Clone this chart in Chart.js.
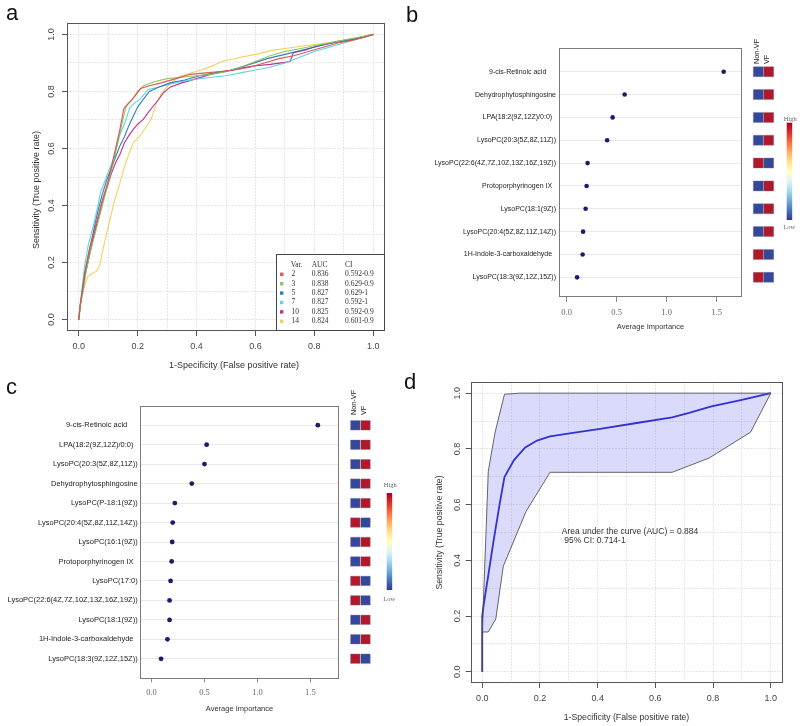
<!DOCTYPE html>
<html><head><meta charset="utf-8">
<script src="https://cdn.jsdelivr.net/npm/chart.js@4.4.1/dist/chart.umd.min.js"></script>
<style>
body{margin:0;background:#fff;}
#wrap{position:relative;width:800px;height:726px;overflow:hidden;background:#fff;}
canvas{position:absolute;}
.lab{position:absolute;font-family:"Liberation Sans",Arial,sans-serif;font-size:22px;line-height:22px;color:#111;}
</style></head><body>
<div id="wrap">
<canvas id="ca" width="400" height="380" style="left:0;top:0"></canvas>
<canvas id="cb" width="346" height="340" style="left:400px;top:0"></canvas>
<canvas id="cbh" width="55" height="340" style="left:745px;top:0"></canvas>
<canvas id="cc" width="343" height="386" style="left:0;top:340px"></canvas>
<canvas id="cch" width="78" height="386" style="left:342px;top:340px"></canvas>
<canvas id="cd" width="380" height="386" style="left:420px;top:340px"></canvas>
<div class="lab" style="left:6px;top:2px">a</div>
<div class="lab" style="left:406px;top:4px">b</div>
<div class="lab" style="left:6px;top:376px">c</div>
<div class="lab" style="left:404px;top:371px">d</div>
</div>
<script>
// ---------- Panel a data ----------
const aVars = ['2','3','5','7','10','14'];
const aAUC = ['0.836','0.838','0.827','0.827','0.825','0.824'];
const aCI = ['0.592-0.9','0.629-0.9','0.629-1','0.592-1','0.592-0.9','0.601-0.9'];
const aFpr2 = [0,0.005,0.012,0.02,0.035,0.05,0.065,0.08,0.095,0.11,0.125,0.14,0.153,0.165,0.18,0.195,0.21,0.24,0.28,0.33,0.378,0.43,0.48,0.53,0.58,0.63,0.68,0.73,0.78,0.83,0.88,0.93,0.97,1];
const aTpr2 = [0,0.05,0.1,0.16,0.24,0.3,0.36,0.42,0.47,0.53,0.6,0.67,0.74,0.755,0.77,0.79,0.81,0.82,0.83,0.845,0.86,0.865,0.87,0.875,0.885,0.9,0.915,0.925,0.94,0.955,0.97,0.98,0.99,1];
const aFpr3 = [0,0.005,0.015,0.025,0.04,0.055,0.07,0.085,0.1,0.115,0.13,0.145,0.16,0.175,0.19,0.2,0.22,0.26,0.3,0.35,0.4,0.45,0.5,0.55,0.6,0.65,0.7,0.75,0.8,0.85,0.9,0.95,1];
const aTpr3 = [0,0.05,0.1,0.17,0.24,0.3,0.36,0.42,0.48,0.54,0.61,0.68,0.745,0.765,0.785,0.8,0.82,0.835,0.845,0.85,0.855,0.86,0.87,0.885,0.905,0.925,0.94,0.95,0.96,0.97,0.98,0.99,1];
const aFpr5 = [0,0.005,0.012,0.02,0.035,0.05,0.065,0.08,0.095,0.11,0.125,0.14,0.156,0.17,0.185,0.2,0.219,0.24,0.27,0.31,0.36,0.41,0.46,0.52,0.58,0.64,0.7,0.76,0.82,0.88,0.94,1];
const aTpr5 = [0,0.05,0.1,0.16,0.24,0.31,0.38,0.44,0.49,0.53,0.57,0.61,0.643,0.68,0.713,0.745,0.772,0.8,0.815,0.83,0.84,0.855,0.865,0.875,0.895,0.915,0.93,0.945,0.96,0.975,0.985,1];
const aFpr7 = [0,0.004,0.01,0.02,0.032,0.05,0.065,0.075,0.09,0.105,0.12,0.13,0.14,0.16,0.173,0.19,0.207,0.236,0.27,0.31,0.35,0.4,0.45,0.5,0.55,0.6,0.65,0.7,0.75,0.8,0.85,0.9,0.95,1];
const aTpr7 = [0,0.05,0.1,0.19,0.26,0.33,0.4,0.45,0.49,0.53,0.57,0.61,0.65,0.7,0.743,0.76,0.772,0.807,0.815,0.825,0.835,0.843,0.85,0.855,0.865,0.875,0.885,0.9,0.92,0.94,0.955,0.97,0.985,1];
const aFpr10 = [0,0.005,0.012,0.02,0.035,0.05,0.065,0.08,0.095,0.11,0.125,0.14,0.155,0.17,0.185,0.2,0.219,0.235,0.253,0.27,0.287,0.31,0.35,0.4,0.45,0.5,0.54,0.593,0.65,0.7,0.718,0.729,0.77,0.808,0.86,0.92,0.97,1];
const aTpr10 = [0,0.05,0.1,0.15,0.22,0.29,0.35,0.41,0.46,0.51,0.55,0.58,0.62,0.645,0.667,0.685,0.702,0.725,0.749,0.77,0.795,0.815,0.83,0.845,0.86,0.87,0.88,0.889,0.895,0.902,0.905,0.936,0.945,0.959,0.97,0.98,0.99,1];
const aFpr14 = [0,0.004,0.01,0.02,0.03,0.043,0.06,0.071,0.083,0.094,0.108,0.122,0.14,0.156,0.17,0.185,0.207,0.23,0.247,0.264,0.28,0.298,0.32,0.344,0.38,0.43,0.49,0.55,0.6,0.66,0.718,0.78,0.84,0.9,0.95,1];
const aTpr14 = [0,0.04,0.08,0.12,0.15,0.16,0.17,0.19,0.25,0.3,0.36,0.42,0.48,0.54,0.58,0.62,0.643,0.678,0.705,0.76,0.79,0.815,0.835,0.854,0.865,0.88,0.906,0.92,0.93,0.945,0.953,0.962,0.97,0.98,0.988,1];
const rocGrid = [0,0.1,0.2,0.3,0.4,0.5,0.6,0.7,0.8,0.9,1.0];

// ---------- Panel b data ----------
const bNames = ['9-cis-Retinoic acid     ','Dehydrophytosphingosine','LPA(18:2(9Z,12Z)/0:0)  ','LysoPC(20:3(5Z,8Z,11Z))','LysoPC(22:6(4Z,7Z,10Z,13Z,16Z,19Z))','Protoporphyrinogen IX  ','LysoPC(18:1(9Z))','LysoPC(20:4(5Z,8Z,11Z,14Z))','1H-Indole-3-carboxaldehyde  ','LysoPC(18:3(9Z,12Z,15Z))'];
const bImportance = [1.57,0.58,0.46,0.405,0.21,0.20,0.19,0.165,0.16,0.105];
const bNonVF = [-1,-1,-1,-1,1,-1,-1,-1,1,1];
const bVF = [1,1,1,1,-1,1,1,1,-1,-1];

// ---------- Panel c data ----------
const cNames = ['9-cis-Retinoic acid     ','LPA(18:2(9Z,12Z)/0:0)  ','LysoPC(20:3(5Z,8Z,11Z))','Dehydrophytosphingosine','LysoPC(P-18:1(9Z))','LysoPC(20:4(5Z,8Z,11Z,14Z))','LysoPC(16:1(9Z))','Protoporphyrinogen IX  ','LysoPC(17:0)','LysoPC(22:6(4Z,7Z,10Z,13Z,16Z,19Z))','LysoPC(18:1(9Z))','1H-Indole-3-carboxaldehyde  ','LysoPC(18:3(9Z,12Z,15Z))'];
const cImportance = [1.57,0.52,0.50,0.38,0.22,0.20,0.195,0.19,0.18,0.17,0.17,0.15,0.09];
const cNonVF = [-1,-1,-1,-1,-1,1,-1,-1,1,1,-1,-1,1];
const cVF = [1,1,1,1,1,-1,1,1,-1,-1,1,1,-1];
const impTicks = [0,0.5,1.0,1.5];
const heatCols = ['Non-VF','VF'];

// ---------- Panel d data ----------
const dFpr = [0,0,0.005,0.015,0.038,0.061,0.077,0.11,0.149,0.19,0.235,0.32,0.409,0.53,0.658,0.72,0.791,0.9,1];
const dTpr = [0,0.2,0.24,0.307,0.462,0.606,0.699,0.76,0.805,0.83,0.845,0.858,0.872,0.892,0.913,0.93,0.952,0.976,1];
const dUpperFpr = [0,0,0.021,0.044,0.077,0.13,1];
const dUpperTpr = [0,0.14,0.72,0.857,0.996,1,1];
const dLowerFpr = [0,0.021,0.047,0.073,0.152,0.235,0.658,0.786,0.93,1];
const dLowerTpr = [0.143,0.143,0.19,0.379,0.576,0.716,0.716,0.767,0.86,1];
const dAucText = ['Area under the curve (AUC) = 0.884',' 95% CI: 0.714-1'];

// ---------- helpers ----------
const SANS = '"Liberation Sans", Arial, Helvetica, sans-serif';
const SERIF = '"Liberation Serif", "Times New Roman", serif';
const pts = (xs, ys) => xs.map((x, i) => ({x: x, y: ys[i]}));
const fixW = w => s => { s.width = w; s.paddingTop = 0; s.paddingBottom = 0; s.paddingLeft = 0; s.paddingRight = 0; };
const fixH = h => s => { s.height = h; s.paddingTop = 0; s.paddingBottom = 0; s.paddingLeft = 0; s.paddingRight = 0; };
const base = {responsive: false, animation: false, devicePixelRatio: 1,
  plugins: {legend: {display: false}, tooltip: {enabled: false}}};
const framePlugin = (color) => ({id: 'frame', afterDraw(chart) {
  const {ctx, chartArea: a} = chart;
  ctx.save(); ctx.strokeStyle = color; ctx.lineWidth = 1;
  ctx.strokeRect(Math.round(a.left) + 0.5, Math.round(a.top) + 0.5, Math.round(a.right - a.left) - 1, Math.round(a.bottom - a.top) - 1);
  ctx.restore();
}});
const heatColor = v => v > 0 ? '#B2182B' : '#34479A';

function rocScale(axis, size, tickPad, titleCfg) {
  return {
    type: 'linear', min: -0.04, max: 1.04,
    afterBuildTicks: s => { s.ticks = rocGrid.map(v => ({value: v})); },
    ticks: {callback: (v, i) => (i % 2 === 0 ? v.toFixed(1) : ''), font: {family: SANS, size: 9}, color: '#444',
      padding: tickPad, autoSkip: false, minRotation: axis === 'y' ? 90 : 0, maxRotation: axis === 'y' ? 90 : 0,
      crossAlign: axis === 'y' ? 'center' : 'near'},
    grid: {color: '#e6e6e6', lineWidth: 1, tickLength: 5, tickWidth: 1,
      tickColor: c => (c.index % 2 === 0 ? '#555' : 'rgba(0,0,0,0)')},
    border: {display: false, dash: [2, 1]},
    title: titleCfg || {display: false},
    afterFit: axis === 'y' ? fixW(size) : fixH(size)
  };
}

// ---------- Chart a ----------
const aColors = ['rgba(226,78,76,0.95)','rgba(133,196,90,0.95)','rgba(42,118,180,0.95)','rgba(84,210,226,0.95)','rgba(180,40,140,0.95)','rgba(242,206,88,0.95)'];
const aSeries = [[aFpr2,aTpr2],[aFpr3,aTpr3],[aFpr5,aTpr5],[aFpr7,aTpr7],[aFpr10,aTpr10],[aFpr14,aTpr14]];
const aTitles = {id: 'aTitles', afterDraw(chart) {
  const ctx = chart.ctx; ctx.save();
  ctx.fillStyle = '#333'; ctx.font = '9px ' + SANS; ctx.textAlign = 'center'; ctx.textBaseline = 'middle';
  ctx.fillText('1-Specificity (False positive rate)', 234, 366);
  ctx.translate(37, 190); ctx.rotate(-Math.PI / 2);
  ctx.fillText('Sensitivity (True positive rate)', 0, 0);
  ctx.restore();
}};
const aLegend = {id: 'aLegend', afterDraw(chart) {
  const {ctx, chartArea: ca} = chart;
  const W = 108, H = 77, L = Math.round(ca.right) - 109, T = Math.round(ca.bottom) - H;
  ctx.save();
  ctx.fillStyle = '#fff'; ctx.fillRect(L, T, W, H);
  ctx.strokeStyle = '#444'; ctx.lineWidth = 1; ctx.strokeRect(L + 0.5, T + 0.5, W, H - 1);
  ctx.beginPath(); ctx.rect(L, T, W, H); ctx.clip();
  ctx.font = '7.5px ' + SERIF; ctx.fillStyle = '#333'; ctx.textBaseline = 'middle'; ctx.textAlign = 'left';
  ctx.fillText('Var.', L + 14.7, T + 11); ctx.fillText('AUC', L + 35.7, T + 11); ctx.fillText('CI', L + 69, T + 11);
  aVars.forEach((v, i) => {
    const y = T + 20.3 + 9.4 * i;
    ctx.fillStyle = aColors[i]; ctx.fillRect(L + 4, y - 1.7, 3.4, 3.4);
    ctx.fillStyle = '#333';
    ctx.fillText(v, L + 15.5, y); ctx.fillText(aAUC[i], L + 35.7, y); ctx.fillText(aCI[i], L + 69, y);
  });
  ctx.restore();
}};
new Chart(document.getElementById('ca'), {
  type: 'line',
  data: {datasets: aSeries.map((s, i) => ({label: 'Var ' + aVars[i], data: pts(s[0], s[1]), borderColor: aColors[i],
    borderWidth: 1.1, pointRadius: 0, tension: 0, fill: false}))},
  options: Object.assign({}, base, {
    layout: {padding: {top: 23, right: 15, left: 0, bottom: 0}},
    scales: {x: rocScale('x', 49, 5.6), y: rocScale('y', 67, 3.8)}
  }),
  plugins: [framePlugin('#555'), aTitles, aLegend]
});

// ---------- importance charts b & c ----------
function impChart(id, names, imp, o) {
  new Chart(document.getElementById(id), {
    type: 'scatter',
    data: {datasets: [{data: imp.map((v, i) => ({x: v, y: i + 1})), pointRadius: o.r, backgroundColor: '#1b1b6c', borderWidth: 0}]},
    options: Object.assign({}, base, {
      layout: {padding: {top: o.top, right: 1, left: 0, bottom: 0}},
      scales: {
        x: {type: 'linear', min: o.xmin, max: o.xmax,
          afterBuildTicks: s => { s.ticks = impTicks.map(v => ({value: v})); },
          ticks: {callback: v => v.toFixed(1), font: {family: SERIF, size: 8.5}, color: '#666', padding: o.tpad, maxRotation: 0, autoSkip: false},
          grid: {drawOnChartArea: false, drawTicks: true, tickLength: o.tl, tickColor: '#888'},
          border: {display: false},
          title: {display: true, text: 'Average Importance', font: {family: SANS, size: 7.5}, color: '#333', padding: {top: 0, bottom: o.tbot}},
          afterFit: fixH(o.xh)},
        y: {type: 'linear', reverse: true, min: o.ymin, max: o.ymax,
          afterBuildTicks: s => { s.ticks = names.map((n, i) => ({value: i + 1})); },
          ticks: {callback: (v, i) => names[i], font: {family: SANS, size: o.fs}, color: '#222', padding: o.lpad, autoSkip: false},
          grid: {color: '#e8e8e8', drawTicks: false, lineWidth: 1},
          border: {display: false},
          afterFit: fixW(o.yw)}
      }
    }),
    plugins: [framePlugin('#7a7a7a')]
  });
}
impChart('cb', bNames, bImportance, {r: 2.3, top: 48, xmin: -0.076, xmax: 1.753, ymin: -0.038, ymax: 10.86,
  tpad: 5.8, tl: 5, tbot: 8.5, xh: 43, yw: 159, fs: 7, lpad: 3});
impChart('cc', cNames, cImportance, {r: 2.4, top: 65.7, xmin: -0.109, xmax: 1.77, ymin: 0, ymax: 14.0,
  tpad: 5.5, tl: 4, tbot: 12.5, xh: 47.7, yw: 140, fs: 7.5, lpad: 2.3});

// ---------- heat columns ----------
function colorBar(x, y0, y1, hiY, loY) {
  return {id: 'cbar', afterDraw(chart) {
    const ctx = chart.ctx; ctx.save();
    const g = ctx.createLinearGradient(0, y1, 0, y0);
    const stops = ['#313695','#4575b4','#74add1','#abd9e9','#e0f3f8','#ffffbf','#fee090','#fdae61','#f46d43','#d73027','#a50026'];
    stops.forEach((c, i) => g.addColorStop(i / (stops.length - 1), c));
    ctx.fillStyle = g; ctx.fillRect(x, y0, 5.5, y1 - y0);
    ctx.font = '6.5px ' + SERIF; ctx.fillStyle = '#666'; ctx.textAlign = 'center'; ctx.textBaseline = 'middle';
    ctx.fillText('High', x + 3.5, hiY); ctx.fillText('Low', x + 2.5, loY);
    ctx.restore();
  }};
}
function heatChart(id, nonvf, vf, o) {
  const ds = [nonvf, vf].map((arr, k) => ({data: arr.map((v, i) => ({x: heatCols[k], y: i + 1})),
    backgroundColor: arr.map(heatColor), borderColor: 'rgba(120,120,140,0.6)', borderWidth: 0.6,
    pointStyle: 'rect', pointRadius: o.r}));
  new Chart(document.getElementById(id), {
    type: 'scatter',
    data: {datasets: ds},
    options: Object.assign({}, base, {
      layout: {padding: {top: 0, right: o.pr, left: o.pl, bottom: o.pb}},
      scales: {
        x: {type: 'category', labels: heatCols, position: 'top', offset: true,
          ticks: {font: {family: SANS, size: 7.3}, color: '#222', minRotation: 90, maxRotation: 90, padding: 1, autoSkip: false, labelOffset: 7.5},
          grid: {display: false, drawTicks: false}, border: {display: false}, afterFit: fixH(o.xh)},
        y: {type: 'linear', reverse: true, min: o.ymin, max: o.ymax, display: false}
      }
    }),
    plugins: [colorBar(o.bx, o.by0, o.by1, o.hi, o.lo)]
  });
}
heatChart('cbh', bNonVF, bVF, {r: 7.07, pl: 8.1, pr: 26.1, pb: 56, xh: 65, ymin: 0.707, ymax: 10.294,
  bx: 41.7, by0: 122.7, by1: 220, hi: 119, lo: 227});
heatChart('cch', cNonVF, cVF, {r: 6.7, pl: 8.2, pr: 49.4, pb: 58, xh: 76, ymin: 0.522, ymax: 13.478,
  bx: 44.7, by0: 153, by1: 250, hi: 145, lo: 259});

// ---------- Chart d ----------
const dBand = pts(dUpperFpr, dUpperTpr).concat(pts(dLowerFpr, dLowerTpr).reverse());
const dText = {id: 'dText', afterDraw(chart) {
  const {ctx, scales} = chart; ctx.save();
  ctx.font = '8.5px ' + SANS; ctx.fillStyle = '#333'; ctx.textAlign = 'left'; ctx.textBaseline = 'middle';
  const x = scales.x.getPixelForValue(0.276), y = scales.y.getPixelForValue(0.504);
  ctx.fillText(dAucText[0], x, y); ctx.fillText(dAucText[1], x, y + 9);
  ctx.restore();
}};
new Chart(document.getElementById('cd'), {
  type: 'line',
  data: {datasets: [
    {label: 'CI', data: dBand, borderColor: '#555', borderWidth: 0.9, backgroundColor: 'rgba(100,100,236,0.24)', fill: 'shape', pointRadius: 0, tension: 0},
    {label: 'ROC', data: pts(dFpr, dTpr), borderColor: '#2323c8', borderWidth: 1.8, pointRadius: 0, tension: 0, fill: false}
  ]},
  options: Object.assign({}, base, {
    layout: {padding: {top: 42, right: 17.7, left: 0, bottom: 0}},
    scales: {
      x: rocScale('x', 43, 5.6, {display: true, text: '1-Specificity (False positive rate)', font: {family: SANS, size: 8.7}, color: '#333', padding: {top: 0, bottom: 2.8}}),
      y: rocScale('y', 50.7, 1.5, {display: true, text: 'Sensitivity (True positive rate)', font: {family: SANS, size: 8.7}, color: '#333', padding: {top: 14, bottom: 0}})
    }
  }),
  plugins: [framePlugin('#555'), dText]
});
</script>
</body></html>
